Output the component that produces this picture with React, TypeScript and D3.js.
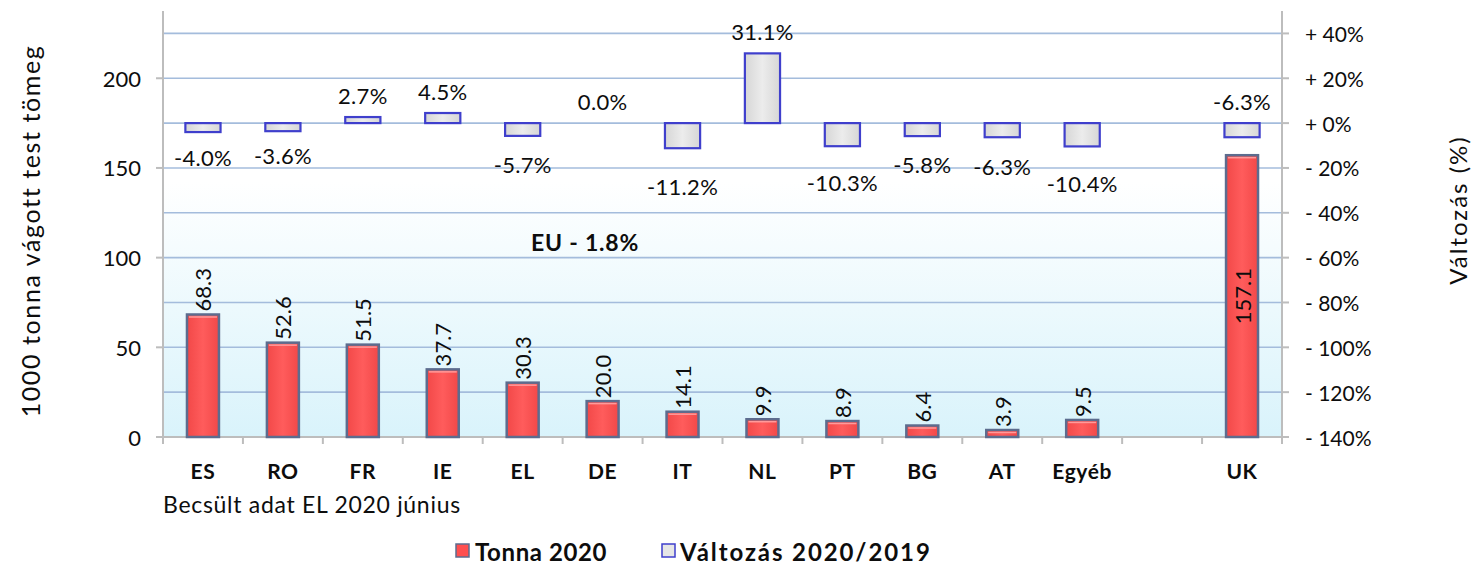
import React from "react";
import * as d3 from "d3";

const categories = ["ES", "RO", "FR", "IE", "EL", "DE", "IT", "NL", "PT", "BG", "AT", "Egyéb", "", "UK"];
const tonna2020: (number | null)[] = [68.3, 52.6, 51.5, 37.7, 30.3, 20.0, 14.1, 9.9, 8.9, 6.4, 3.9, 9.5, null, 157.1];
const valtozas: (number | null)[] = [-4.0, -3.6, 2.7, 4.5, -5.7, 0.0, -11.2, 31.1, -10.3, -5.8, -6.3, -10.4, null, -6.3];
const changeLabelSide = ["below", "below", "above", "above", "below", "above", "below", "above", "below", "below", "below", "below", "", "above"];
const barLabelPos = ["out", "out", "out", "out", "out", "out", "out", "out", "out", "out", "out", "out", "", "center"];
const leftTicks = [0, 50, 100, 150, 200];
const rightTicks = [-140, -120, -100, -80, -60, -40, -20, 0, 20, 40];
const leftDomain = [0, 237.5];
const rightDomain = [-140, 50];

const W = 1473;
const H = 566;
const M = { left: 163, right: 1282, top: 11, bottom: 437 };
const FONT = "Lato, 'Open Sans', sans-serif";
const INK = "#0d0d0d";

export default function App() {
  const keys = categories.map((c, i) => c + "_" + i);
  const x = d3.scaleBand<string>().domain(keys).range([M.left, M.right]).padding(0);
  const yL = d3.scaleLinear().domain(leftDomain).range([M.bottom, M.top]);
  const yR = d3.scaleLinear().domain(rightDomain).range([M.bottom, M.top]);
  const bw = x.bandwidth();
  const barW = bw * 0.4;
  const boxW = bw * 0.44;
  const y0 = yR(0);

  const fmtR = (v: number) => {
    if (v > 0) return "+ " + v + "%";
    if (v < 0) return "- " + Math.abs(v) + "%";
    return "+ 0%";
  };

  return (
    <svg width={W} height={H} style={{ position: "absolute", left: 0, top: 0, background: "#fff" }}>
      <defs>
        <linearGradient id="bg" x1="0" y1="0" x2="0" y2="1">
          <stop offset="0%" stopColor="#ffffff" />
          <stop offset="40%" stopColor="#ffffff" />
          <stop offset="100%" stopColor="#d9f3fb" />
        </linearGradient>
        <linearGradient id="barFill" x1="0" y1="0" x2="1" y2="0">
          <stop offset="0%" stopColor="#f24848" />
          <stop offset="50%" stopColor="#ff5c5c" />
          <stop offset="100%" stopColor="#f24848" />
        </linearGradient>
        <linearGradient id="boxFill" x1="0" y1="0" x2="1" y2="0">
          <stop offset="0%" stopColor="#d6d6d6" />
          <stop offset="50%" stopColor="#ececec" />
          <stop offset="100%" stopColor="#d6d6d6" />
        </linearGradient>
      </defs>

      <rect x={M.left} y={M.top} width={M.right - M.left} height={M.bottom - M.top} fill="url(#bg)" />

      {rightTicks.map((t) => (
        <line key={"g" + t} x1={M.left} x2={M.right} y1={yR(t)} y2={yR(t)} stroke="#a4bcdc" strokeWidth={1.6} />
      ))}

      <line x1={M.left} x2={M.left} y1={M.top} y2={M.bottom + 1} stroke="#bdbdbd" strokeWidth={2} />
      <line x1={M.right} x2={M.right} y1={M.top} y2={M.bottom + 1} stroke="#bdbdbd" strokeWidth={2} />
      <line x1={M.left} x2={M.right} y1={M.bottom} y2={M.bottom} stroke="#bdbdbd" strokeWidth={2} />

      {leftTicks.map((t) => (
        <g key={"lt" + t}>
          <line x1={M.left - 7} x2={M.left} y1={yL(t)} y2={yL(t)} stroke="#bdbdbd" strokeWidth={2} />
          <text x={M.left - 22} y={yL(t)} textAnchor="end" dominantBaseline="central" fontFamily={FONT} fontSize={22} fill={INK}>
            {t}
          </text>
        </g>
      ))}

      {rightTicks.map((t) => (
        <g key={"rt" + t}>
          <line x1={M.right} x2={M.right + 7} y1={yR(t)} y2={yR(t)} stroke="#bdbdbd" strokeWidth={2} />
          <text x={M.right + 23} y={yR(t)} textAnchor="start" dominantBaseline="central" fontFamily={FONT} fontSize={21} fill={INK}>
            {fmtR(t)}
          </text>
        </g>
      ))}

      {keys.map((k, i) => (
        <line key={"xt" + i} x1={x(k)!} x2={x(k)!} y1={M.bottom} y2={M.bottom + 7} stroke="#bdbdbd" strokeWidth={2} />
      ))}
      <line x1={M.right} x2={M.right} y1={M.bottom} y2={M.bottom + 7} stroke="#bdbdbd" strokeWidth={2} />

      {keys.map((k, i) => (
        <text key={"cl" + i} x={x(k)! + bw / 2} y={470} textAnchor="middle" dominantBaseline="central" fontFamily={FONT} fontWeight="bold" fontSize={21} letterSpacing={0.6} fill={INK}>
          {categories[i]}
        </text>
      ))}

      {keys.map((k, i) => {
        const v = tonna2020[i];
        if (v == null) return null;
        const cx = x(k)! + bw / 2;
        const top = yL(v);
        return (
          <g key={"b" + i}>
            <rect x={cx - barW / 2} y={top} width={barW} height={yL(0) - top} fill="url(#barFill)" stroke="#5d6c8e" strokeWidth={2.5} />
            <line x1={cx - barW / 2 + 2} x2={cx + barW / 2 - 2} y1={top + 2.5} y2={top + 2.5} stroke="#ff9a9a" strokeWidth={1.5} />
          </g>
        );
      })}

      {keys.map((k, i) => {
        const v = tonna2020[i];
        if (v == null) return null;
        const cx = x(k)! + bw / 2;
        const top = yL(v);
        if (barLabelPos[i] === "center") {
          const cy = (top + yL(0)) / 2;
          return (
            <text key={"bl" + i} transform={`translate(${cx},${cy}) rotate(-90)`} textAnchor="middle" dominantBaseline="central" fontFamily={FONT} fontSize={22} fill={INK}>
              {v.toFixed(1)}
            </text>
          );
        }
        return (
          <text key={"bl" + i} transform={`translate(${cx},${top - 3}) rotate(-90)`} textAnchor="start" dominantBaseline="central" fontFamily={FONT} fontSize={22} fill={INK}>
            {v.toFixed(1)}
          </text>
        );
      })}

      {keys.map((k, i) => {
        const v = valtozas[i];
        if (v == null || v === 0) return null;
        const cx = x(k)! + bw / 2;
        const yv = yR(v);
        const t = Math.min(yv, y0);
        const h = Math.abs(yv - y0);
        return (
          <rect key={"c" + i} x={cx - boxW / 2} y={t} width={boxW} height={h} fill="url(#boxFill)" stroke="#3f3fcc" strokeWidth={2.2} />
        );
      })}

      {keys.map((k, i) => {
        const v = valtozas[i];
        if (v == null) return null;
        const cx = x(k)! + bw / 2;
        const yv = yR(v);
        let cy: number;
        if (changeLabelSide[i] === "above") {
          cy = Math.min(yv, y0) - 22;
        } else {
          cy = y0 + 1.8 * (yv - y0) + 18;
        }
        return (
          <text key={"cl2" + i} x={cx} y={cy} textAnchor="middle" dominantBaseline="central" fontFamily={FONT} fontSize={22} letterSpacing={0.3} fill={INK}>
            {v.toFixed(1) + "%"}
          </text>
        );
      })}

      <text x={585} y={242} textAnchor="middle" dominantBaseline="central" fontFamily={FONT} fontWeight="bold" fontSize={23} letterSpacing={0.8} fill={INK}>
        EU  - 1.8%
      </text>

      <text transform={`translate(30,231) rotate(-90)`} textAnchor="middle" dominantBaseline="central" fontFamily={FONT} fontSize={25} letterSpacing={1.6} fill={INK}>
        1000 tonna  vágott test tömeg
      </text>
      <text transform={`translate(1457,210) rotate(-90)`} textAnchor="middle" dominantBaseline="central" fontFamily={FONT} fontSize={24} letterSpacing={2} fill={INK}>
        Változás  (%)
      </text>

      <text x={163} y={504} textAnchor="start" dominantBaseline="central" fontFamily={FONT} fontSize={23} letterSpacing={0.7} fill={INK}>
        Becsült adat EL 2020 június
      </text>

      <rect x={456} y={544} width={13} height={13} fill="#ff4f4f" stroke="#5d6c8e" strokeWidth={1.5} />
      <text x={475} y={551} dominantBaseline="central" fontFamily={FONT} fontWeight="bold" fontSize={24} letterSpacing={0.6} fill={INK}>
        Tonna 2020
      </text>
      <rect x={662} y={544} width={13} height={13} fill="#e6e6e6" stroke="#3f3fcc" strokeWidth={1.5} />
      <text x={680} y={551} dominantBaseline="central" fontFamily={FONT} fontWeight="bold" fontSize={24} letterSpacing={1.9} fill={INK}>
        Változás 2020/2019
      </text>
    </svg>
  );
}
